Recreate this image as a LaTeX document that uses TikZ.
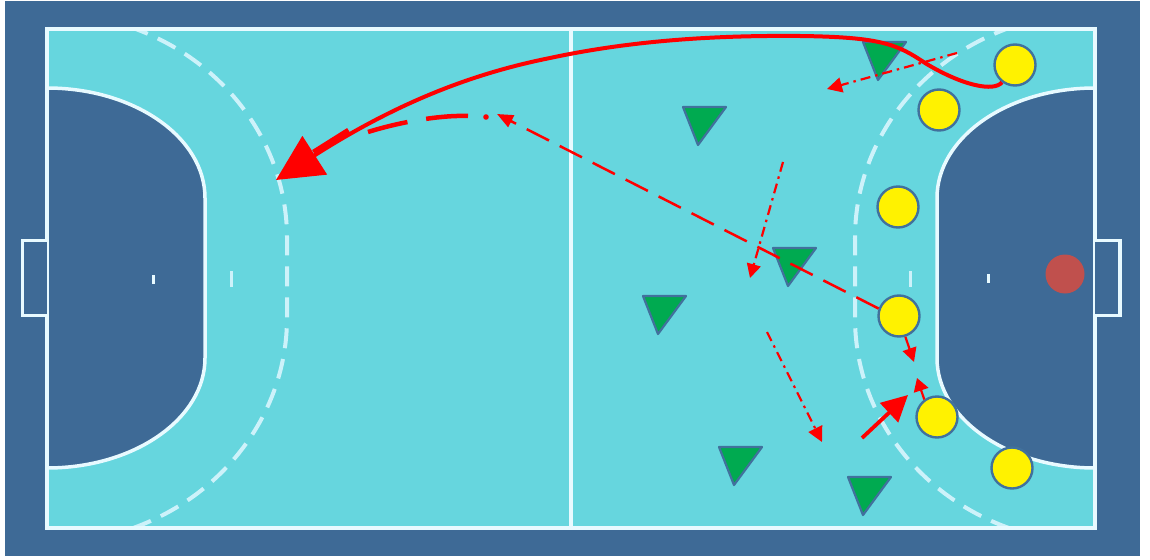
\documentclass[tikz,border=0pt]{standalone}
\usetikzlibrary{arrows.meta}
\definecolor{bgblue}{RGB}{62,106,150}
\definecolor{court}{RGB}{102,214,222}
\definecolor{cline}{RGB}{232,250,255}
\definecolor{nine}{RGB}{205,242,250}
\definecolor{pborder}{RGB}{65,113,156}
\definecolor{dgreen}{RGB}{0,170,80}
\definecolor{ballred}{RGB}{192,80,77}
\definecolor{pred}{RGB}{255,0,0}
\begin{document}
\begin{tikzpicture}[x=1pt,y=-1pt,
  player/.style={circle, fill=yellow, draw=pborder, line width=2.4pt, minimum size=41pt, inner sep=0pt},
  ball/.style={circle, fill=ballred, minimum size=39pt, inner sep=0pt},
  courtline/.style={draw=cline, line width=4pt},
  goalline/.style={draw=cline, line width=3.5pt},
  nineline/.style={draw=nine, line width=4pt, dash pattern=on 20pt off 11pt},
  courtmark/.style={draw=cline, line width=3pt},
  redline/.style={draw=pred, line width=2.2pt},
  dashdot/.style={dash pattern=on 10pt off 5pt on 2.5pt off 5pt},
  longdash/.style={dash pattern=on 25pt off 12pt},
  smalltip/.style={-{Triangle[length=15pt,width=15pt]}},
  defender/.pic={\draw[fill=dgreen, draw=pborder, line width=2.2pt, line join=round] (0,0) -- (43,0) -- (15,38) -- cycle;}
]
\useasboundingbox (0,0) rectangle (1150,559);
\fill[white] (0,0) rectangle (1150,559);
\fill[bgblue] (5,1) rectangle (1140,556);
\fill[court] (47,29) rectangle (1095,528);
% goal areas
\fill[bgblue] (47,88) arc[start angle=90, end angle=0, x radius=158pt, y radius=110pt] -- (205,358) arc[start angle=0, end angle=-90, x radius=158pt, y radius=110pt] -- cycle;
\draw[goalline] (47,88) arc[start angle=90, end angle=0, x radius=158pt, y radius=110pt] -- (205,358) arc[start angle=0, end angle=-90, x radius=158pt, y radius=110pt];
\fill[bgblue] (1095,88) arc[start angle=90, end angle=180, x radius=158pt, y radius=110pt] -- (937,358) arc[start angle=180, end angle=270, x radius=158pt, y radius=110pt] -- cycle;
\draw[goalline] (1095,88) arc[start angle=90, end angle=180, x radius=158pt, y radius=110pt] -- (937,358) arc[start angle=180, end angle=270, x radius=158pt, y radius=110pt];
% 9 m lines
\begin{scope}
\clip (47,31) rectangle (1095,526);
\draw[nineline] (129.1,26.6) arc[start angle=70, end angle=0, x radius=240pt, y radius=225pt] -- (287,318) arc[start angle=0, end angle=-70, x radius=240pt, y radius=225pt];
\draw[nineline] (1012.9,26.6) arc[start angle=110, end angle=180, x radius=240pt, y radius=225pt] -- (855,318) arc[start angle=180, end angle=250, x radius=240pt, y radius=225pt];
\end{scope}
% court lines
\draw[courtline] (47,29) rectangle (1095,528);
\draw[courtline, line width=4.5pt] (571,29) -- (571,528);
\fill[bgblue] (22.5,240.5) rectangle (47,315.5);
\fill[bgblue] (1095,240.5) rectangle (1120,315.5);
\draw[goalline] (47,240.5) -- (22.5,240.5) -- (22.5,315.5) -- (47,315.5);
\draw[goalline] (1095,240.5) -- (1120,240.5) -- (1120,315.5) -- (1095,315.5);
\draw[courtmark] (153,275) -- (153,284);
\draw[courtmark, draw=nine] (231,271) -- (231,287);
\draw[courtmark, draw=nine] (910,271) -- (910,287);
\draw[courtmark] (988,274) -- (988,283);
% defenders
\pic (d1) at (863,42) {defender};
\pic (d2) at (683,107) {defender};
\pic (d3) at (773,248) {defender};
\pic (d4) at (643,296) {defender};
\pic (d5) at (719,447) {defender};
\pic (d6) at (848,477) {defender};
% attackers and ball
\node[player] (p1) at (1015,65) {};
\node[player] (p2) at (939,110) {};
\node[player] (p3) at (898,207) {};
\node[player] (p4) at (899,316) {};
\node[player] (p5) at (937,417) {};
\node[player] (p6) at (1012,468) {};
\node[ball] (b) at (1065,274) {};
% free ends
\coordinate (bigend) at (276,180);
\coordinate (thk1) at (349,131);
\coordinate (thk2) at (314,153);
\coordinate (a2s) at (957,53);
\coordinate (a2e) at (827,89);
\coordinate (a3e) at (497,114);
\coordinate (a5s) at (783,162);
\coordinate (a5e) at (750,278);
\coordinate (a6s) at (767,332);
\coordinate (a6e) at (822,442);
\coordinate (a7e) at (914,362);
\coordinate (a8e) at (917,378);
\coordinate (a9s) at (862,438);
\coordinate (a9e) at (908,395);
\coordinate (tds) at (468,116);
\coordinate (tde) at (368,132);
\coordinate (dot) at (486,117);
% arrows
\draw[draw=pred, line width=4pt, -{Triangle[length=46pt,width=45pt]}]
  (p1.233) .. controls (994,92) and (963,86) .. (925,63)
  .. controls (897,44) and (880,37) .. (800,36)
  .. controls (700,35) and (620,43) .. (550,58)
  .. controls (470,74) and (395,104) .. (bigend);
\draw[draw=pred, line width=7pt] (thk1) -- (thk2);
\draw[redline, dashdot, smalltip] (a2s) -- (a2e);
\draw[redline, line width=2.5pt, longdash, -{Triangle[length=16pt,width=13pt]}] (p4.160) -- (a3e);
\draw[draw=pred, line width=4.5pt, dash pattern=on 42pt off 19pt] (tds) .. controls (440,115) and (400,122) .. (tde);
\fill[pred] (dot) circle[radius=2.8pt];
\draw[redline, dashdot, -{Triangle[length=14pt,width=14pt]}] (a5s) -- (a5e);
\draw[redline, dashdot, smalltip] (a6s) -- (a6e);
\draw[redline, -{Triangle[length=14pt,width=14pt]}] (p4.287) -- (a7e);
\draw[redline, -{Triangle[length=13pt,width=15pt]}] (p5.126) -- (a8e);
\draw[draw=pred, line width=3.8pt, -{Triangle[length=26pt,width=26pt]}] (a9s) -- (a9e);
\end{tikzpicture}
\end{document}
